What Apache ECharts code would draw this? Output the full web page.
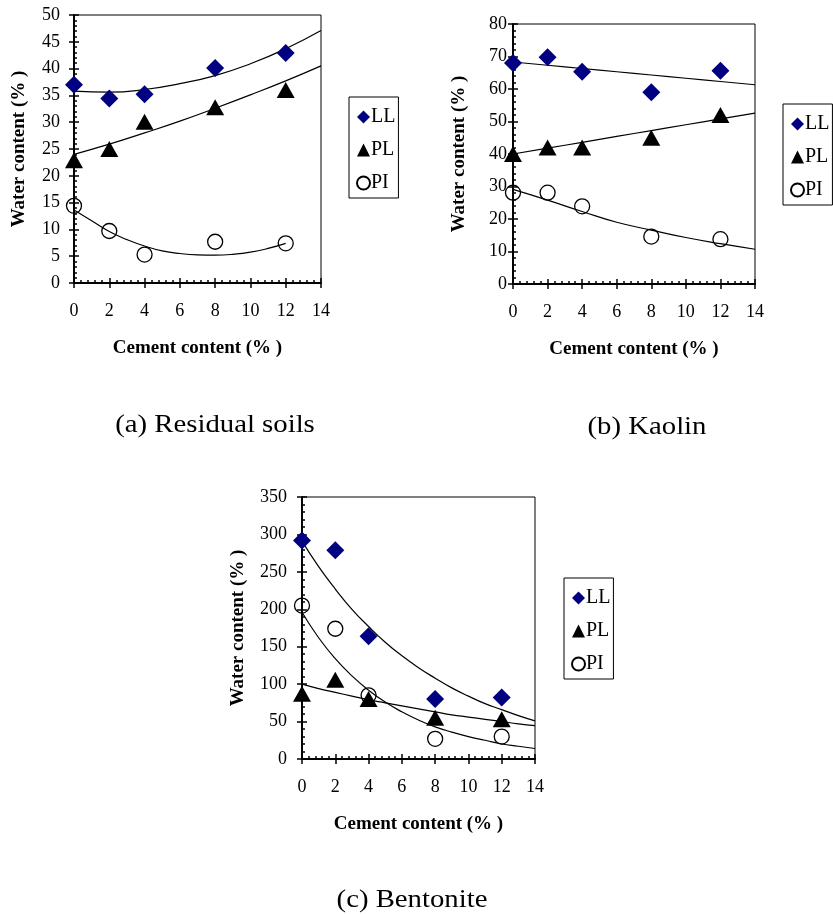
<!DOCTYPE html>
<html><head><meta charset="utf-8">
<script src="https://cdn.jsdelivr.net/npm/echarts@6/dist/echarts.min.js"></script>
<style>html,body{margin:0;padding:0;background:#fff}#c{width:833px;height:914px}</style>
</head><body><div id="c"></div>
<script>
// ---- data ----
const cement = [0, 2, 4, 8, 12];
const xTickLabels = ['0','2','4','6','8','10','12','14'];

const resLL = [37.0, 34.4, 35.2, 40.1, 42.9];
const resPL = [22.9, 25.0, 30.1, 32.8, 36.0];
const resPI = [14.4, 9.7, 5.3, 7.7, 7.4];

const kaoLL = [68.0, 69.8, 65.3, 59.0, 65.6];
const kaoPL = [40.0, 42.0, 42.0, 45.0, 52.0];
const kaoPI = [28.1, 28.1, 23.9, 14.6, 13.8];

const benLL = [292, 279, 164, 80, 82];
const benPL = [87, 106, 80, 55, 53];
const benPI = [205, 174, 85, 27, 30];

// trend lines
const fitX2 = [0, 2, 4, 6, 8, 10, 12, 14];
const fitX1 = [0, 1, 2, 3, 4, 5, 6, 7, 8, 9, 10, 11, 12, 13, 14];
const fitXres = [0, 1, 2, 3, 4, 5, 6, 7, 8, 9, 10, 11, 12];

const resLLfit = [35.8, 35.6, 36.1, 37.2, 38.7, 40.9, 43.7, 47.1];
const resPLfit = [24.0, 25.9, 28.0, 30.2, 32.6, 35.1, 37.7, 40.5];
const resPIfit = [13.6, 11.6, 9.6, 8.1, 6.9, 6.0, 5.5, 5.25, 5.2, 5.35, 5.75, 6.45, 7.4];

const kaoLLfit = [68.3, 67.3, 66.3, 65.3, 64.3, 63.3, 62.3, 61.3];
const kaoPLfit = [40.0, 41.8, 43.6, 45.4, 47.2, 49.0, 50.8, 52.6];
const kaoPIfit = [29.1, 25.8, 22.3, 19.0, 16.6, 14.3, 12.4, 10.7];

const benLLfit = [291, 257, 227, 200, 177, 156, 138, 122, 108, 95, 84, 74, 66, 58, 51];
const benPLfit = [100, 94, 89, 84, 79, 75, 71, 67, 63, 59, 56, 53, 50, 47, 44.5];
const benPIfit = [196, 162, 134, 111, 92, 76, 63, 52, 43, 36, 30, 25, 20, 17, 14];

const yMaxes = [50, 80, 350];
const yIntervals = [5, 10, 50];
const captions = ['(a) Residual soils', '(b) Kaolin', '(c) Bentonite'];
const xTitle = 'Cement content (% )';
const yTitle = 'Water content (% )';

// ---- layout ----
const FONT = 'Liberation Serif';
const panels = [
  {grid: {left: 74, top: 15, width: 247, height: 268}, yLabelMargin: 14, yNameGap: 45, legend: {left: 349, top: 97}, cap: [215, 425]},
  {grid: {left: 513, top: 24, width: 242, height: 260}, yLabelMargin: 6, yNameGap: 44, legend: {left: 783, top: 104}, cap: [647, 427]},
  {grid: {left: 302, top: 497, width: 233, height: 262}, yLabelMargin: 15, yNameGap: 54, legend: {left: 564, top: 578}, cap: [412, 900]}
];

const pairs = (xs, ys) => xs.map((x, i) => [x, ys[i]]);

const grids = [], xAxes = [], yAxes = [], legends = [], graphics = [];
panels.forEach((p, i) => {
  grids.push(Object.assign({show: true, borderColor: '#000', borderWidth: 1, backgroundColor: 'transparent'}, p.grid));
  xAxes.push({
    type: 'value', gridIndex: i, min: 0, max: 14, interval: 2,
    name: xTitle, nameLocation: 'middle', nameGap: 56,
    nameTextStyle: {fontFamily: FONT, fontWeight: 'bold', fontSize: 19, color: '#000'},
    axisLine: {show: true, onZero: false, lineStyle: {color: '#000', width: 2}},
    axisTick: {show: true, inside: true, length: 5, lineStyle: {color: '#000', width: 1.5}},
    minorTick: {show: true, splitNumber: 5, length: 3, lineStyle: {color: '#000', width: 1.5}},
    splitLine: {show: false},
    axisLabel: {show: true, margin: 19, fontFamily: FONT, fontSize: 18, color: '#000',
      formatter: v => xTickLabels[Math.round(v / 2)]}
  });
  yAxes.push({
    type: 'value', gridIndex: i, min: 0, max: yMaxes[i], interval: yIntervals[i],
    name: yTitle, nameLocation: 'middle', nameGap: p.yNameGap, nameRotate: 90,
    nameTextStyle: {fontFamily: FONT, fontWeight: 'bold', fontSize: 19, color: '#000'},
    axisLine: {show: true, onZero: false, lineStyle: {color: '#000', width: 2}},
    axisTick: {show: true, inside: true, length: 5, lineStyle: {color: '#000', width: 1.5}},
    minorTick: {show: true, splitNumber: 5, length: 3, lineStyle: {color: '#000', width: 1.5}},
    splitLine: {show: false},
    axisLabel: {show: true, margin: p.yLabelMargin, fontFamily: FONT, fontSize: 18, color: '#000'}
  });
  legends.push({
    left: p.legend.left, top: p.legend.top, orient: 'vertical',
    data: ['LL', 'PL', 'PI'], selectedMode: false,
    backgroundColor: '#fff', borderColor: '#000', borderWidth: 1,
    padding: [10, 3, 5, 7], itemGap: 13, itemWidth: 13, itemHeight: 13,
    textStyle: {fontFamily: FONT, fontSize: 20, color: '#000', lineHeight: 20, padding: [0, 0, 0, -4]}
  });
  graphics.push({type: 'text', x: p.cap[0], y: p.cap[1], scaleX: 1.15,
    style: {text: captions[i], align: 'center', verticalAlign: 'middle', textAlign: 'center', textVerticalAlign: 'middle',
      font: '25px "' + FONT + '"', fill: '#000'}});
});
// outward halves of the major ticks
panels.forEach((p, i) => {
  xAxes.push({type: 'value', gridIndex: i, min: 0, max: 14, interval: 2, position: 'bottom',
    axisLine: {show: false}, axisLabel: {show: false}, splitLine: {show: false},
    axisTick: {show: true, inside: false, length: 5, lineStyle: {color: '#000', width: 1.5}}});
  yAxes.push({type: 'value', gridIndex: i, min: 0, max: yMaxes[i], interval: yIntervals[i], position: 'left',
    axisLine: {show: false}, axisLabel: {show: false}, splitLine: {show: false},
    axisTick: {show: true, inside: false, length: 5, lineStyle: {color: '#000', width: 1.5}}});
});

const sets = [
  {LL: resLL, PL: resPL, PI: resPI, fits: [[fitX2, resLLfit], [fitX2, resPLfit], [fitXres, resPIfit]]},
  {LL: kaoLL, PL: kaoPL, PI: kaoPI, fits: [[fitX2, kaoLLfit], [fitX2, kaoPLfit], [fitX2, kaoPIfit]]},
  {LL: benLL, PL: benPL, PI: benPI, fits: [[fitX1, benLLfit], [fitX1, benPLfit], [fitX1, benPIfit]]}
];

const series = [];
sets.forEach((s, i) => {
  s.fits.forEach(f => series.push({
    type: 'line', xAxisIndex: i, yAxisIndex: i, data: pairs(f[0], f[1]), smooth: true,
    showSymbol: false, symbol: 'none', lineStyle: {color: '#000', width: 1.2}, z: 1, silent: true, clip: false
  }));
  series.push({name: 'LL', type: 'scatter', xAxisIndex: i, yAxisIndex: i, data: pairs(cement, s.LL),
    symbol: 'diamond', symbolSize: [18, 18], itemStyle: {color: '#000080', opacity: 1}, z: 3, clip: false});
  series.push({name: 'PL', type: 'scatter', xAxisIndex: i, yAxisIndex: i, data: pairs(cement, s.PL),
    symbol: 'triangle', symbolSize: [18, 16], itemStyle: {color: '#000', opacity: 1}, z: 3, clip: false});
  series.push({name: 'PI', type: 'scatter', xAxisIndex: i, yAxisIndex: i, data: pairs(cement, s.PI),
    symbol: 'circle', symbolSize: 15, itemStyle: {color: 'rgba(255,255,255,0)', borderColor: '#000', borderWidth: 1.3, opacity: 1}, z: 3, clip: false});
});

const chart = echarts.init(document.getElementById('c'), null, {renderer: 'canvas'});
chart.setOption({
  animation: false,
  backgroundColor: '#fff',
  textStyle: {fontFamily: FONT},
  grid: grids, xAxis: xAxes, yAxis: yAxes, legend: legends, series: series,
  graphic: graphics
});
</script></body></html>
